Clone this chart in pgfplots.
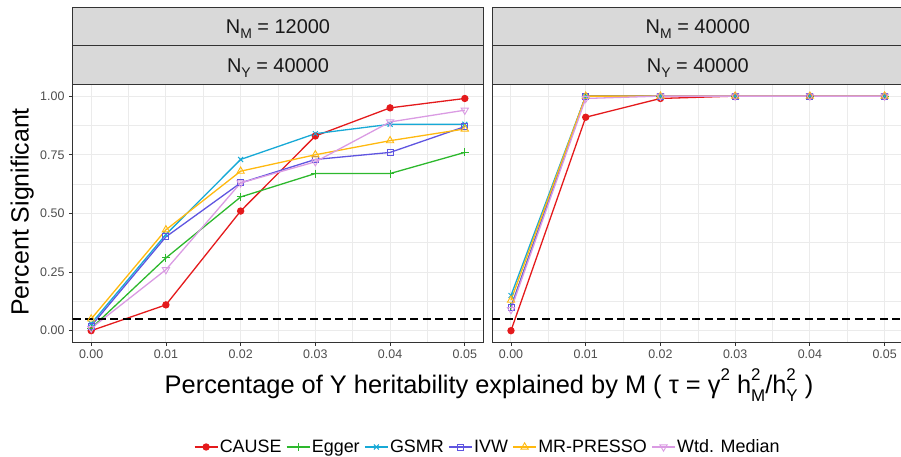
\documentclass[border=0pt]{standalone}
\usepackage{pgfplots}
\pgfplotsset{compat=1.18}
\usepackage{fontspec}
\setmainfont{Liberation Sans}

\definecolor{cCause}{HTML}{E41A1C}
\definecolor{cEgger}{HTML}{2DB82D}
\definecolor{cGSMR}{HTML}{17A9D6}
\definecolor{cIVW}{HTML}{5F55E0}
\definecolor{cPresso}{HTML}{FFB90F}
\definecolor{cWtd}{HTML}{DA9BE3}
\definecolor{gridc}{HTML}{EBEBEB}
\definecolor{framec}{HTML}{333333}
\definecolor{tickc}{HTML}{4D4D4D}
\definecolor{stripc}{HTML}{D9D9D9}

% small raised / lowered text for the plotmath-style labels
\newcommand\sps[1]{\raisebox{0.5em}{\fontsize{17}{17}\selectfont #1}}
\newcommand\sbs[1]{\raisebox{-0.3em}{\fontsize{17}{17}\selectfont #1}}
\newcommand\spsb[2]{\rlap{\sps{#1}}\sbs{#2}}
\newcommand\stripsub[1]{\raisebox{-0.25em}{\fontsize{14}{14}\selectfont #1}}

\pgfplotsset{
  panel/.style={
    scale only axis, width=411bp, height=258bp, anchor=south west,
    xmin=-0.0025, xmax=0.0525, ymin=-0.05, ymax=1.05,
    xtick={0,0.01,0.02,0.03,0.04,0.05},
    ytick={0,0.25,0.5,0.75,1},
    minor xtick={0.005,0.015,0.025,0.035,0.045},
    minor ytick={0.125,0.375,0.625,0.875},
    grid=both,
    major grid style={color=gridc, line width=1bp},
    minor grid style={color=gridc, line width=0.5bp},
    axis line style={color=framec, line width=1bp},
    tick align=outside, major tick length=3.5bp, minor tick length=0pt,
    tick style={color=framec, line width=0.8bp},
    xtick pos=left, ytick pos=left,
    ticklabel style={font=\fontsize{12.5}{13}\selectfont, color=tickc},
    yticklabel style={xshift=-1bp},
    /pgf/number format/.cd, fixed, fixed zerofill, precision=2, assume math mode=true,
    /pgfplots/.cd,
    every axis plot/.append style={line width=1.3bp},
    scaled ticks=false,
  },
  sCause/.style={cCause, mark=*, mark size=3bp},
  sEgger/.style={cEgger, mark=+, mark size=4bp, mark options={line width=1bp}},
  sGSMR/.style={cGSMR, mark=x, mark size=3.5bp, mark options={line width=1bp}},
  sIVW/.style={cIVW, mark=square, mark size=3bp, mark options={line width=0.9bp, fill=none}},
  sPresso/.style={cPresso, mark=triangle, mark size=4.2bp, mark options={line width=0.9bp, fill=none}},
  sWtd/.style={cWtd, mark=triangle, mark size=4.2bp, mark options={rotate=180, line width=0.9bp, fill=none}},
  hline/.style={black, line width=1.4bp, dash pattern=on 8bp off 4.5bp, forget plot},
}

\begin{document}
\begin{tikzpicture}
\path[use as bounding box] (0,0) rectangle (901bp,457bp);

% left panel: N_M = 12000
\begin{axis}[panel, name=left, at={(72.5bp,114.6bp)},
  legend style={draw=none, fill=none, at={(1.0097,-0.4054)}, anchor=center,
    legend columns=-1, font=\fontsize{18}{19}\selectfont,
    /tikz/every even column/.append style={column sep=3bp},
    nodes={inner xsep=1.5bp}},
  legend image code/.code={\draw[mark repeat=2, mark phase=2]
    plot coordinates {(0bp,0bp) (11.5bp,0bp) (23bp,0bp)};},
]
\addplot[sCause] coordinates {(0,0) (0.01,0.11) (0.02,0.51) (0.03,0.83) (0.04,0.95) (0.05,0.99)};
\addplot[sEgger] coordinates {(0,0.01) (0.01,0.31) (0.02,0.57) (0.03,0.67) (0.04,0.67) (0.05,0.76)};
\addplot[sGSMR] coordinates {(0,0.03) (0.01,0.41) (0.02,0.73) (0.03,0.84) (0.04,0.88) (0.05,0.88)};
\addplot[sIVW] coordinates {(0,0.02) (0.01,0.40) (0.02,0.63) (0.03,0.73) (0.04,0.76) (0.05,0.87)};
\addplot[sPresso] coordinates {(0,0.05) (0.01,0.43) (0.02,0.68) (0.03,0.75) (0.04,0.81) (0.05,0.86)};
\addplot[sWtd] coordinates {(0,0.01) (0.01,0.26) (0.02,0.63) (0.03,0.72) (0.04,0.89) (0.05,0.94)};
\addplot[hline] coordinates {(-0.0025,0.05) (0.0525,0.05)};
\legend{CAUSE, Egger, GSMR, IVW, MR-PRESSO, Wtd. Median}
\end{axis}

% right panel: N_M = 40000
\begin{axis}[panel, name=right, at={(492.3bp,114.6bp)},
  yticklabels={}, ytick style={draw=none}]
\addplot[sCause] coordinates {(0,0) (0.01,0.91) (0.02,0.99) (0.03,1) (0.04,1) (0.05,1)};
\addplot[sEgger] coordinates {(0,0.10) (0.01,1) (0.02,1) (0.03,1) (0.04,1) (0.05,1)};
\addplot[sGSMR] coordinates {(0,0.15) (0.01,1) (0.02,1) (0.03,1) (0.04,1) (0.05,1)};
\addplot[sIVW] coordinates {(0,0.10) (0.01,1) (0.02,1) (0.03,1) (0.04,1) (0.05,1)};
\addplot[sPresso] coordinates {(0,0.13) (0.01,1) (0.02,1) (0.03,1) (0.04,1) (0.05,1)};
\addplot[sWtd] coordinates {(0,0.09) (0.01,0.99) (0.02,1) (0.03,1) (0.04,1) (0.05,1)};
\addplot[hline] coordinates {(-0.0025,0.05) (0.0525,0.05)};
\end{axis}

% facet strips
\begin{scope}[draw=framec, line width=1bp, fill=stripc]
  \filldraw (72.5bp,411.3bp) rectangle (483.5bp,449.7bp);
  \filldraw (72.5bp,372.6bp) rectangle (483.5bp,411.3bp);
  \filldraw (492.3bp,411.3bp) rectangle (903.3bp,449.7bp);
  \filldraw (492.3bp,372.6bp) rectangle (903.3bp,411.3bp);
\end{scope}
\begin{scope}[every node/.style={anchor=base, font=\fontsize{20}{21}\selectfont, color=black!90, inner sep=0pt}]
  \node at (278bp,423.3bp) {N\stripsub{M} = 12000};
  \node at (278bp,384.8bp) {N\stripsub{Y} = 40000};
  \node at (697.8bp,423.3bp) {N\stripsub{M} = 40000};
  \node at (697.8bp,384.8bp) {N\stripsub{Y} = 40000};
\end{scope}

% axis titles
\node[anchor=base, inner sep=0pt, font=\fontsize{25.5}{26}\selectfont] at (489bp,63.5bp)
  {Percentage of Y heritability explained by M ( τ = γ\sps{2} h\spsb{2}{M}/h\spsb{2}{Y} )};
\node[anchor=base, rotate=90, inner sep=0pt, font=\fontsize{25}{26}\selectfont] at (28.5bp,245bp)
  {Percent Significant};
\end{tikzpicture}
\end{document}
